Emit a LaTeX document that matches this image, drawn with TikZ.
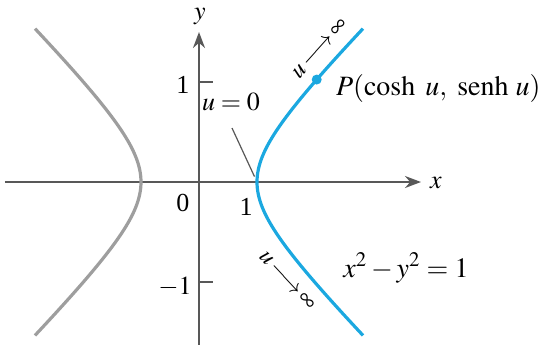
\documentclass[tikz,border=0pt]{standalone}
\usepackage{mathptmx}
\usepackage{fontspec}
\setmainfont{Liberation Serif}
\usetikzlibrary{arrows.meta}

\definecolor{hypblue}{RGB}{27,168,224}
\definecolor{hypgray}{RGB}{158,158,158}
\definecolor{axisgray}{RGB}{88,88,88}

\begin{document}
\begin{tikzpicture}[
x=0.5pt,y=0.5pt,
every node/.style={font=\fontsize{13}{15}\selectfont},
axis/.style={
draw=axisgray,
line width=1pt,
-{Stealth[length=8pt,width=6pt]}
},
branch/.style={
line width=1.6pt
},
tick/.style={
draw=axisgray,
line width=0.9pt
},
leader/.style={
draw=axisgray,
line width=0.6pt
},
biglabel/.style={
font=\fontsize{14}{17}\selectfont
},
tendlabel/.style={
font=\fontsize{12}{14}\selectfont,
inner sep=0pt
}
]

\useasboundingbox (-199,-162) rectangle (342,182);


% axes
\coordinate (xmin) at (-194,0);
\coordinate (xmax) at (222,0);
\coordinate (ymin) at (0,-170);
\coordinate (ymax) at (0,150);

\draw[axis] (xmin)--(xmax);
\draw[axis] (ymin)--(ymax);

\node (xlab) at (237,-1) {$x$};
\node (ylab) at (1,166) {$y$};


% ticks
\coordinate (tup) at (0,100);
\coordinate (tdown) at (0,-100);
\draw[tick] (tup)--++(14,0);
\draw[tick] (tdown)--++(14,0);

\node (yone) at (-16,97) {1};
\node (ymone) at (-24,-105) {$-1$};
\node (orig) at (-16,-21) {0};
\node (xone) at (47,-25) {1};


% branches
\draw[branch,hypgray] plot[domain=-1.7:1.7,samples=80,smooth]
({-58*cosh(\x)},{58*sinh(\x)});
\draw[branch,hypblue] plot[domain=-1.7:1.7,samples=80,smooth]
({58*cosh(\x)},{58*sinh(\x)});


% point P
\node[
circle,
fill=hypblue,
inner sep=0pt,
minimum size=5pt
] (P) at ({58*cosh(1.334)},{58*sinh(1.334)}) {};

\node[biglabel,anchor=base west] (Plab) at (130,87)
{$P(\cosh\ u,\ \mathrm{senh}\ u)$};


% u = 0
\coordinate (vertex) at (58,0);
\coordinate (uzerotail) at (33,54);
\node (uzero) at (32,80) {$u=0$};
\draw[leader,shorten >=3pt] (uzerotail)--(vertex);


% limits
\node[tendlabel,rotate=48] (uinfup) at (121,133)
{$u\!\longrightarrow\!\infty$};
\node[tendlabel,rotate=-47] (uinfdown) at (88,-99)
{$u\!\longrightarrow\!\infty$};


% equation
\node[biglabel] (eqn) at (207,-86) {$x^2-y^2=1$};


\end{tikzpicture}
\end{document}
